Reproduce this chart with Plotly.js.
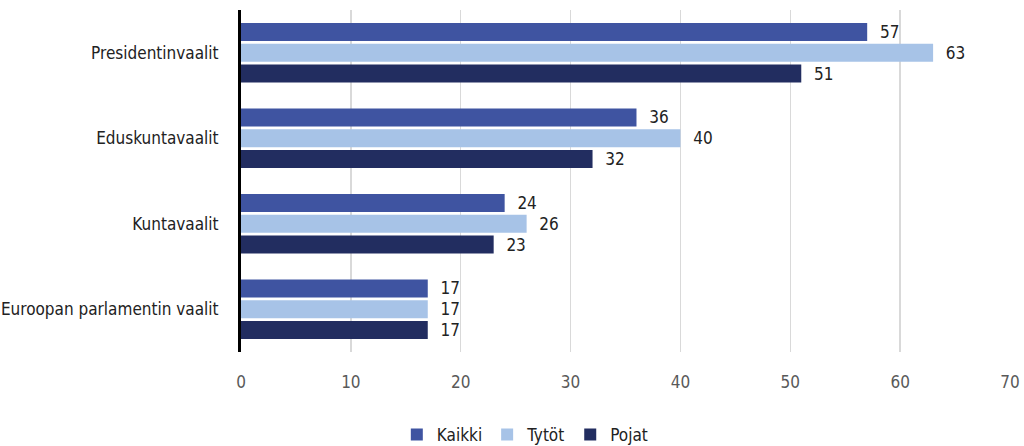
<!DOCTYPE html>
<html><head><meta charset="utf-8">
<script src="https://cdn.plot.ly/plotly-3.0.1.min.js"></script>
<style>html,body{margin:0;padding:0;background:#fff}#c{width:1024px;height:446px}</style>
</head><body><div id="c"></div>
<script>
const categories = ["Presidentinvaalit","Eduskuntavaalit","Kuntavaalit","Euroopan parlamentin vaalit"];
const kaikki = [57,36,24,17];
const tytot = [63,40,26,17];
const pojat = [51,32,23,17];
const seriesNames = ["Kaikki","Tytöt","Pojat"];
const colors = ["#3F54A1","#A7C3E7","#222D60"];
const FONT = '"DejaVu Sans Condensed","Liberation Sans Narrow",sans-serif';
const vals = [kaikki,tytot,pojat];
const traces = [0,1,2].map(i => ({
  type:'bar', orientation:'h', name:seriesNames[i],
  y:categories, x:vals[i], marker:{color:colors[i]},
  text:vals[i].map(v => '\u00a0\u00a0' + v), textposition:'outside', constraintext:'none',
  textfont:{family:FONT,size:17,color:'#222'}, cliponaxis:false,
  hoverinfo:'none'
}));
const layout = {
  width:1024, height:446,
  margin:{l:241,r:14,t:10,b:94},
  barmode:'group', bargap:0.27, bargroupgap:0.13,
  font:{family:FONT,size:17,color:'#222'},
  xaxis:{range:[0,70], dtick:10, showgrid:true, gridcolor:'#d9d9d9', gridwidth:1.5,
    zeroline:false, showline:false, tickfont:{family:FONT,size:17,color:'#595959'},
    ticks:'', ticklen:0, ticklabelstandoff:18, automargin:false},
  yaxis:{autorange:'reversed', showline:true, linecolor:'#000', linewidth:3,
    ticks:'', tickfont:{family:FONT,size:17,color:'#222'}, ticklabelstandoff:16, automargin:false},
  showlegend:true,
  legend:{orientation:'h', x:0.513, xref:'container', xanchor:'center', y:0.025, yref:'container', yanchor:'middle',
    traceorder:'normal', font:{family:FONT,size:17,color:'#222'}, itemwidth:30},
  plot_bgcolor:'#fff', paper_bgcolor:'#fff'
};
Plotly.newPlot('c', traces, layout, {displayModeBar:false, staticPlot:true});
</script></body></html>
